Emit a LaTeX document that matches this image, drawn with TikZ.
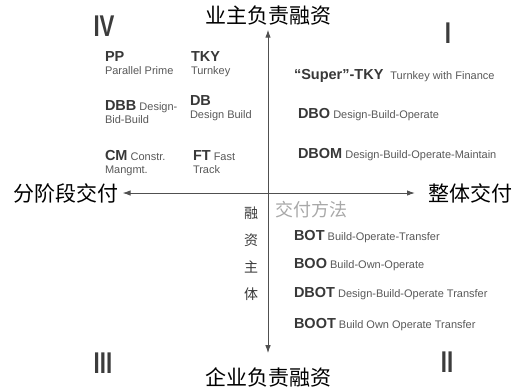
\documentclass[tikz,border=0pt]{standalone}
\usepackage{fontspec}
\setsansfont{Liberation Sans}
\newfontfamily\cjk{Noto Sans CJK SC}
\usepackage{xcolor}
\usepackage{tikz}
\usetikzlibrary{arrows.meta}
\usetikzlibrary{positioning}

\definecolor{axisgray}{HTML}{505050}
\definecolor{abbgray}{HTML}{383838}
\definecolor{fullgray}{HTML}{585858}
\definecolor{numgray}{HTML}{3C3C3C}
\definecolor{methodgray}{HTML}{A8A8A8}

\newcommand{\abb}[1]{{\fontsize{14.5}{16}\selectfont\bfseries\color{abbgray}#1}}
\newcommand{\quadnum}[1]{\scalebox{0.74}[1]{#1}}

\begin{document}
\begin{tikzpicture}[x=1pt, y=-1pt,
  every node/.style={inner sep=0pt, outer sep=0pt},
  item/.style={anchor=base west, align=left, text=fullgray,
    font=\sffamily\fontsize{11}{13}\selectfont},
  numeral/.style={text=numgray, font=\sffamily\bfseries\fontsize{30}{30}\selectfont},
  axislabel/.style={font=\cjk\fontsize{21}{21}\selectfont},
  axisline/.style={<->, draw=axisgray, line width=1pt},
]
\tikzset{>={Latex[length=8pt, width=5.5pt]}}
\useasboundingbox (0,0) rectangle (513,389);

%% axis labels
\node[axislabel] (owner)  at (268,16)  {业主负责融资};
\node[axislabel] (firm)   at (268,377) {企业负责融资};
\node[axislabel] (phased) at (66,193)  {分阶段交付};
\node[axislabel] (whole)  at (470,193) {整体交付};

\draw[axisline, shorten <=4pt, shorten >=13pt] (phased.east) -- (whole.west);
\draw[axisline, shorten <=4pt, shorten >=14pt] (owner.south) -- (firm.north);

%% quadrant numbers
\node[numeral] (q4) at (104,26)  {\quadnum{IV}};
\node[numeral] (q1) at (448,33)  {\quadnum{I}};
\node[numeral] (q3) at (103,363) {\quadnum{III}};
\node[numeral] (q2) at (447,362) {\quadnum{II}};

%% quadrant IV (base = last line)
\node[item] (pp) at (105,74)  {\abb{PP}\\Parallel Prime};
\node[item] (tky) at (191,74) {\abb{TKY}\\Turnkey};
\node[item] (dbb) at (105,123) {\abb{DBB} Design-\\Bid-Build};
\node[item] (db) at (190,118) {\abb{DB}\\Design Build};
\node[item] (cm) at (105,173) {\abb{CM} Constr.\\Mangmt.};
\node[item] (ft) at (193,173) {\abb{FT} Fast\\Track};

%% quadrant I
\node[item] (stky) at (294,79)  {\abb{“Super”-TKY}\hspace{7pt}Turnkey with Finance};
\node[item] (dbo)  at (298,118) {\abb{DBO} Design-Build-Operate};
\node[item] (dbom) at (298,158) {\abb{DBOM} Design-Build-Operate-Maintain};

%% quadrant II
\node[font=\cjk\fontsize{18}{18}\selectfont, text=methodgray, anchor=west] (method) at (275,210) {交付方法};
\node[font=\cjk\fontsize{14}{27}\selectfont, text=abbgray, align=center] (financer) at (251,254) {融\\资\\主\\体};
\node[item] (bot)  at (294,240) {\abb{BOT} Build-Operate-Transfer};
\node[item] (boo)  at (294,268) {\abb{BOO} Build-Own-Operate};
\node[item] (dbot) at (294,297) {\abb{DBOT} Design-Build-Operate Transfer};
\node[item] (boot) at (294,328) {\abb{BOOT} Build Own Operate Transfer};

\end{tikzpicture}
\end{document}
